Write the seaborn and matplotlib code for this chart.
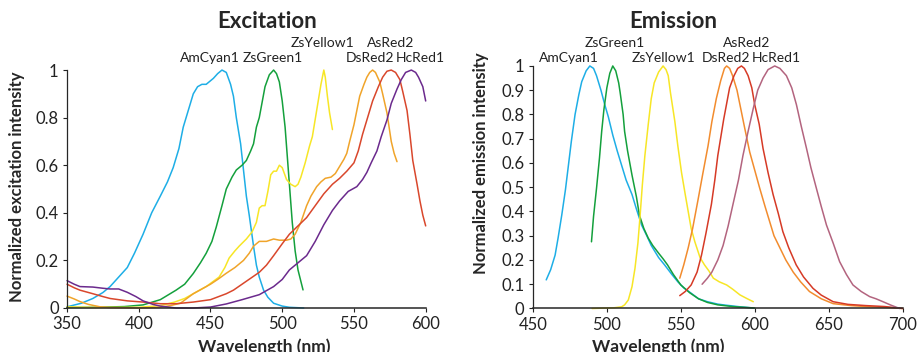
import pandas as pd
import seaborn as sns
import matplotlib.pyplot as plt

# ---- excitation spectra ----
ex_amcyan_x = [350, 360, 368, 375, 380, 386, 392, 397, 403, 409, 415, 420, 424, 428, 431, 435, 438, 441, 444, 447,
               450, 452, 455, 458, 461, 464, 466, 468, 471, 473, 475, 477, 480, 482, 484, 487, 490, 494, 500, 505, 515]
ex_amcyan_y = [0.005, 0.02, 0.04, 0.065, 0.09, 0.13, 0.17, 0.23, 0.31, 0.40, 0.47, 0.53, 0.59, 0.67, 0.76, 0.84, 0.90,
               0.93, 0.94, 0.94, 0.955, 0.965, 0.985, 1.0, 0.99, 0.94, 0.89, 0.80, 0.69, 0.58, 0.47, 0.39, 0.26, 0.18,
               0.13, 0.075, 0.045, 0.02, 0.008, 0.003, 0.0]

ex_zsgreen_x = [350, 370, 390, 403, 415, 426, 432, 438, 443, 447, 451, 454, 458, 461, 465, 468, 472, 475, 478, 480,
                482, 484, 488, 491, 494, 496, 498, 500, 502, 504, 505.5, 507, 509, 511, 514.5]
ex_zsgreen_y = [0.002, 0.003, 0.006, 0.013, 0.035, 0.075, 0.10, 0.145, 0.19, 0.23, 0.28, 0.34, 0.43, 0.50, 0.55,
                0.58, 0.60, 0.62, 0.66, 0.69, 0.76, 0.80, 0.93, 0.98, 1.0, 0.985, 0.95, 0.87, 0.76, 0.60, 0.48, 0.36,
                0.24, 0.16, 0.076]

ex_zsyellow_x = [350, 370, 400, 415, 425, 432, 438, 447, 456, 460, 463, 467, 470, 475, 479, 482, 484, 486, 488, 490,
                 492, 494, 496, 498, 500, 503, 506, 509, 511, 513, 516, 519, 521, 524, 527, 529, 530, 531.5, 533, 535]
ex_zsyellow_y = [0.005, 0.002, 0.003, 0.01, 0.025, 0.04, 0.06, 0.09, 0.13, 0.17, 0.21, 0.24, 0.26, 0.29, 0.32, 0.36,
                 0.42, 0.43, 0.43, 0.49, 0.56, 0.575, 0.575, 0.60, 0.59, 0.54, 0.52, 0.51, 0.52, 0.55, 0.61, 0.68,
                 0.72, 0.83, 0.94, 1.0, 0.97, 0.89, 0.82, 0.75]

ex_dsred_x = [350, 355, 359, 365, 373, 380, 400, 415, 422, 429, 438, 444, 450, 455, 461, 467, 473, 477, 480, 484,
              489, 494, 498, 503, 506, 509, 513, 517, 520, 524, 527, 530, 534, 537, 540, 543, 545, 547, 550, 552,
              554, 557, 559, 561, 563, 565, 568, 570, 573, 576, 578, 580]
ex_dsred_y = [0.05, 0.038, 0.027, 0.015, 0.005, 0.002, 0.0, 0.003, 0.01, 0.02, 0.06, 0.08, 0.10, 0.12, 0.146, 0.17,
              0.20, 0.23, 0.26, 0.28, 0.28, 0.29, 0.285, 0.285, 0.29, 0.31, 0.36, 0.43, 0.47, 0.51, 0.53, 0.545, 0.55,
              0.565, 0.595, 0.625, 0.65, 0.70, 0.77, 0.83, 0.89, 0.94, 0.97, 0.99, 1.0, 0.99, 0.95, 0.90, 0.82,
              0.70, 0.65, 0.615]

ex_asred_x = [350, 355, 359, 368, 375, 380, 392, 403, 415, 426, 438, 450, 461, 466, 472, 478, 484, 489, 494, 500,
              505, 511, 517, 523, 529, 535, 540, 545, 550, 553, 556, 560, 563, 567, 570, 573, 576, 579, 582, 584,
              587, 589, 591, 594, 596, 598, 600]
ex_asred_y = [0.10, 0.085, 0.075, 0.06, 0.048, 0.04, 0.03, 0.025, 0.018, 0.018, 0.025, 0.035, 0.06, 0.075, 0.10,
              0.125, 0.15, 0.18, 0.22, 0.27, 0.31, 0.345, 0.38, 0.43, 0.48, 0.52, 0.545, 0.575, 0.61, 0.66, 0.73,
              0.81, 0.87, 0.93, 0.97, 0.995, 1.0, 0.99, 0.96, 0.91, 0.83, 0.73, 0.62, 0.52, 0.45, 0.39, 0.345]

ex_hcred_x = [350, 355, 359, 368, 375, 380, 386, 392, 398, 403, 410, 415, 426, 438, 450, 461, 472, 484, 494, 500,
              505, 511, 517, 523, 529, 535, 540, 546, 552, 556, 559, 562, 566, 569, 573, 576, 580, 583, 586, 590,
              593, 595, 598, 600]
ex_hcred_y = [0.115, 0.10, 0.09, 0.088, 0.083, 0.08, 0.08, 0.066, 0.048, 0.03, 0.015, 0.008, 0.0, 0.0, 0.004,
              0.017, 0.035, 0.056, 0.09, 0.12, 0.16, 0.19, 0.22, 0.28, 0.35, 0.41, 0.45, 0.49, 0.51, 0.54, 0.57,
              0.61, 0.66, 0.72, 0.79, 0.86, 0.92, 0.96, 0.99, 1.0, 0.99, 0.97, 0.93, 0.87]

# ---- emission spectra ----
em_amcyan_x = [459, 462, 465, 467, 469.5, 472, 474, 476, 478.5, 481, 483, 486, 488.5, 491, 493, 496, 498.6, 501,
               504, 507, 510, 513, 517, 520, 523.5, 527, 530, 535, 539, 544, 548, 552, 557, 562, 568, 575, 580, 590,
               599]
em_amcyan_y = [0.118, 0.16, 0.22, 0.29, 0.385, 0.49, 0.59, 0.69, 0.80, 0.88, 0.935, 0.98, 1.0, 0.99, 0.96, 0.90,
               0.84, 0.79, 0.715, 0.65, 0.59, 0.53, 0.47, 0.41, 0.344, 0.30, 0.26, 0.21, 0.18, 0.14, 0.11, 0.085,
               0.063, 0.04, 0.028, 0.018, 0.014, 0.007, 0.002]

em_zsgreen_x = [489.6, 491, 493, 495, 496.5, 498, 500, 502, 504, 506, 508, 509, 511, 512, 514, 517, 520, 522, 525,
                528, 531, 535, 538, 541, 545, 550, 556, 562, 568, 575, 585, 600]
em_zsgreen_y = [0.275, 0.38, 0.495, 0.62, 0.73, 0.82, 0.91, 0.97, 1.0, 0.98, 0.93, 0.89, 0.80, 0.73, 0.65, 0.55,
                0.46, 0.385, 0.33, 0.29, 0.26, 0.228, 0.205, 0.18, 0.14, 0.097, 0.065, 0.04, 0.025, 0.015, 0.008,
                0.002]

em_zsyellow_x = [490, 500, 505, 510, 512, 514.5, 517, 519, 521, 522.5, 524, 525.7, 528, 530, 532, 535, 538, 540,
                 541.5, 543, 546, 548, 550.5, 553, 555, 557, 559.5, 563, 566, 569, 572, 576, 581, 585, 590, 595, 599]
em_zsyellow_y = [0.0, 0.002, 0.003, 0.007, 0.015, 0.035, 0.09, 0.165, 0.27, 0.385, 0.51, 0.63, 0.76, 0.865, 0.93,
                 0.975, 1.0, 0.985, 0.96, 0.89, 0.77, 0.67, 0.56, 0.47, 0.40, 0.33, 0.275, 0.21, 0.18, 0.155, 0.125,
                 0.11, 0.097, 0.08, 0.056, 0.04, 0.028]

em_dsred_x = [549.3, 552, 555, 558, 561.7, 565, 568.4, 571, 574, 577, 579.5, 581, 583, 585, 588, 590, 593, 596.6,
              600, 603.4, 607, 610, 613, 617, 621, 626, 631, 637, 645, 653, 665, 675, 690, 700]
em_dsred_y = [0.125, 0.18, 0.25, 0.33, 0.45, 0.56, 0.67, 0.77, 0.865, 0.94, 0.99, 1.0, 0.99, 0.96, 0.90, 0.84,
              0.75, 0.645, 0.57, 0.495, 0.42, 0.36, 0.30, 0.25, 0.20, 0.15, 0.11, 0.07, 0.04, 0.02, 0.012, 0.008,
              0.004, 0.0]

em_asred_x = [549.3, 553, 557, 561, 564, 567, 570.7, 573, 575, 579, 583, 586, 588.5, 591, 593, 595.5, 598, 600,
              603, 605.6, 609, 612.4, 616, 619, 623, 628, 633, 639.4, 645, 653, 663, 675, 688, 700]
em_asred_y = [0.053, 0.07, 0.097, 0.15, 0.22, 0.31, 0.43, 0.53, 0.63, 0.78, 0.91, 0.96, 0.99, 1.0, 0.99, 0.96,
              0.91, 0.84, 0.76, 0.66, 0.56, 0.47, 0.39, 0.317, 0.25, 0.18, 0.13, 0.083, 0.055, 0.028, 0.017, 0.012,
              0.008, 0.0]

em_hcred_x = [564.4, 568, 571, 575, 578.6, 582, 585.3, 589, 592, 595.5, 599, 602, 605.6, 609, 613.5, 617, 621.4,
              625, 628.2, 631.5, 635, 638, 641.7, 645, 648.5, 653, 657.4, 662, 666.4, 672, 677.7, 682, 686.7, 692,
              698]
em_hcred_y = [0.10, 0.125, 0.15, 0.20, 0.26, 0.34, 0.43, 0.53, 0.63, 0.73, 0.825, 0.90, 0.95, 0.985, 1.0, 0.99,
              0.96, 0.91, 0.84, 0.75, 0.66, 0.58, 0.495, 0.42, 0.344, 0.27, 0.193, 0.14, 0.097, 0.07, 0.049, 0.04,
              0.028, 0.014, 0.0]

proteins = ["AmCyan1", "ZsGreen1", "ZsYellow1", "DsRed2", "AsRed2", "HcRed1"]
ex_colors = ["#1eaee6", "#14a03c", "#f7e626", "#f0a42a", "#d9472c", "#6b2a8d"]
em_colors = ["#1eaee6", "#14a03c", "#f7e626", "#f28c2e", "#d63a26", "#b3647f"]

# label positions (wavelength, height) above the peaks
ex_label_x = [449.4, 493.2, 528.3, 561.3, 575.6, 596.5]
ex_label_y = [1.05, 1.05, 1.113, 1.05, 1.113, 1.05]
em_label_x = [474.0, 505.6, 538.2, 580.3, 594.3, 614.4]
em_label_y = [1.033, 1.095, 1.033, 1.033, 1.095, 1.033]


def long_frame(xs, ys):
    parts = []
    for name, x, y in zip(proteins, xs, ys):
        parts.append(pd.DataFrame({"Wavelength": x, "Intensity": y, "Protein": name}))
    return pd.concat(parts, ignore_index=True)


ex_df = long_frame([ex_amcyan_x, ex_zsgreen_x, ex_zsyellow_x, ex_dsred_x, ex_asred_x, ex_hcred_x],
                   [ex_amcyan_y, ex_zsgreen_y, ex_zsyellow_y, ex_dsred_y, ex_asred_y, ex_hcred_y])
em_df = long_frame([em_amcyan_x, em_zsgreen_x, em_zsyellow_x, em_dsred_x, em_asred_x, em_hcred_x],
                   [em_amcyan_y, em_zsgreen_y, em_zsyellow_y, em_dsred_y, em_asred_y, em_hcred_y])

sns.set_style("ticks")
plt.rcParams["font.family"] = ["Lato", "DejaVu Sans"]

fig = plt.figure(figsize=(9.22, 3.52), dpi=100)
ax1 = fig.add_axes([0.0727, 0.125, 0.389, 0.676])
ax2 = fig.add_axes([0.578, 0.1236, 0.401, 0.689])

panels = [
    (ax1, ex_df, ex_colors, ex_label_x, ex_label_y, (350, 600), [0, 0.2, 0.4, 0.6, 0.8, 1.0],
     "Normalized excitation intensity", "Excitation", (267, 22), (-0.117, 0.508), (0.551, -0.128)),
    (ax2, em_df, em_colors, em_label_x, em_label_y, (450, 700), [i / 10 for i in range(11)],
     "Normalized emission intensity", "Emission", (673, 21), (-0.119, 0.60), (0.338, -0.125)),
]

for ax, df, colors, lx, ly, xlim, yticks, ylabel, title, tpos, ypos, xpos in panels:
    sns.lineplot(data=df, x="Wavelength", y="Intensity", hue="Protein", palette=colors,
                 estimator=None, sort=False, linewidth=1.1, legend=False, ax=ax)
    for line in ax.lines:
        line.set_clip_on(False)
    for name, x, y in zip(proteins, lx, ly):
        ax.text(x, y, name, ha="center", va="center", fontsize=10, color="#222222")
    ax.set_xlim(*xlim)
    ax.set_ylim(0, 1)
    ax.set_xticks(range(xlim[0], xlim[1] + 1, 50))
    ax.set_yticks(yticks)
    ax.set_yticklabels(["0" if t == 0 else ("1" if t == 1 else f"{t:.1f}") for t in yticks])
    ax.tick_params(axis="both", labelsize=12, length=3, width=0.8, pad=3, colors="#222222")
    sns.despine(ax=ax)
    ax.spines["left"].set_linewidth(0.9)
    ax.spines["bottom"].set_linewidth(1.1)
    ax.set_xlabel("Wavelength (nm)", fontsize=12.5, fontweight="bold")
    ax.set_ylabel(ylabel, fontsize=12, fontweight="bold")
    ax.xaxis.set_label_coords(*xpos)
    ax.yaxis.set_label_coords(*ypos)
    fig.text(tpos[0] / 922, 1 - tpos[1] / 352, title, ha="center", va="center",
             fontsize=16, fontweight="bold")

fig.savefig("out.png", dpi=100)
